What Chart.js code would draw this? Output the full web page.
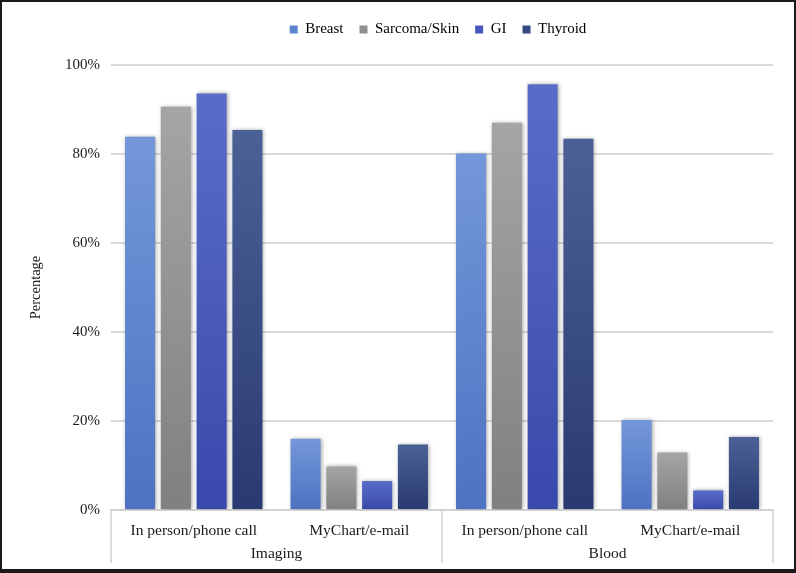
<!DOCTYPE html>
<html>
<head>
<meta charset="utf-8">
<script src="https://cdn.jsdelivr.net/npm/chart.js@4"></script>
<style>
  html, body { margin: 0; padding: 0; background: #fff; }
  #frame { position: relative; width: 796px; height: 573px; box-sizing: border-box; border: 2px solid #1a1a1a; border-bottom-width: 4px; }
  #chart { display: block; }
</style>
</head>
<body>
<div id="frame"><canvas id="chart" width="792" height="567"></canvas></div>
<script>
// categories: sub level (method) and group level (test type)
const methods = ["In person/phone call", "MyChart/e-mail", "In person/phone call", "MyChart/e-mail"];
const groups = ["Imaging", "Blood"];
const seriesNames = ["Breast", "Sarcoma/Skin", "GI", "Thyroid"];

// percentages per category: Imaging in person, Imaging MyChart, Blood in person, Blood MyChart
const breast = [83.9, 16.0, 80.1, 20.2];
const sarcomaSkin = [90.6, 9.8, 87.0, 12.9];
const gi = [93.6, 6.5, 95.7, 4.4];
const thyroid = [85.4, 14.7, 83.4, 16.4];

const yTicks = [0, 20, 40, 60, 80, 100];

// gradient colours (top, bottom) and legend swatch for each series
const palette = [
  { top: "#7397d8", bottom: "#4e72c2", swatch: "#5d84cf" },
  { top: "#a5a5a5", bottom: "#808080", swatch: "#8f8f8f" },
  { top: "#5a6cc9", bottom: "#3949ab", swatch: "#4656bd" },
  { top: "#4b6196", bottom: "#293a72", swatch: "#34497f" },
];

const font = "'Liberation Serif', 'Times New Roman', serif";

function barGradient(i) {
  return (ctx) => {
    const chart = ctx.chart;
    const y = chart.scales.y;
    if (!chart.chartArea || !y || ctx.raw == null) return palette[i].swatch;
    const top = y.getPixelForValue(ctx.raw);
    const bottom = y.getPixelForValue(0);
    if (!isFinite(top) || !isFinite(bottom) || top === bottom) return palette[i].swatch;
    const g = chart.ctx.createLinearGradient(0, top, 0, bottom);
    g.addColorStop(0, palette[i].top);
    g.addColorStop(1, palette[i].bottom);
    return g;
  };
}

const values = [breast, sarcomaSkin, gi, thyroid];

// legend spacing + centring over the plot area
const legendTweak = {
  id: "legendTweak",
  beforeInit(chart) {
    const lg = chart.legend;
    const fit = lg.fit;
    lg.fit = function () { fit.call(this); this.height += 18; };
  },
  afterLayout(chart) {
    const lg = chart.legend, a = chart.chartArea;
    const shift = (a.left + a.right) / 2 - (lg.left + lg.right) / 2 - 4;
    lg.left += shift;
    lg.right += shift;
  },
};

// soft shadow behind the bars
const barShadow = {
  id: "barShadow",
  beforeDatasetsDraw(chart) {
    const c = chart.ctx;
    c.save();
    c.shadowColor = "rgba(0,0,0,0.35)";
    c.shadowBlur = 4;
    c.shadowOffsetX = 1;
    c.shadowOffsetY = 0;
  },
  afterDatasetsDraw(chart) { chart.ctx.restore(); },
};

// group row under the category labels, with separator lines
const groupAxis = {
  id: "groupAxis",
  afterDraw(chart) {
    const x = chart.scales.x, a = chart.chartArea, c = chart.ctx;
    const lineBottom = a.bottom + 53;
    const mid = (x.getPixelForValue(1) + x.getPixelForValue(2)) / 2;
    c.save();
    c.strokeStyle = "#d0d0d0";
    c.lineWidth = 1.5;
    [a.left, mid, a.right].forEach((px) => {
      c.beginPath();
      c.moveTo(px, a.bottom);
      c.lineTo(px, lineBottom);
      c.stroke();
    });
    c.fillStyle = "#1a1a1a";
    c.font = "15.5px " + font;
    c.textAlign = "center";
    c.textBaseline = "middle";
    groups.forEach((g, i) => {
      const cx = (x.getPixelForValue(i * 2) + x.getPixelForValue(i * 2 + 1)) / 2;
      c.fillText(g, cx, a.bottom + 44);
    });
    c.restore();
  },
};

new Chart(document.getElementById("chart"), {
  type: "bar",
  data: {
    labels: methods,
    datasets: seriesNames.map((name, i) => ({
      label: name,
      data: values[i],
      backgroundColor: barGradient(i),
      borderWidth: 0,
      categoryPercentage: 0.865,
      barPercentage: 0.84,
    })),
  },
  options: {
    responsive: false,
    animation: false,
    layout: { padding: { top: 4, right: 21, left: 0, bottom: 0 } },
    plugins: {
      tooltip: { enabled: false },
      legend: {
        position: "top",
        labels: {
          boxWidth: 8,
          boxHeight: 8,
          padding: 16,
          color: "#1a1a1a",
          font: { family: font, size: 15 },
          generateLabels: (chart) => seriesNames.map((name, i) => ({
            text: name,
            fillStyle: palette[i].swatch,
            strokeStyle: palette[i].swatch,
            lineWidth: 0,
            datasetIndex: i,
            hidden: false,
          })),
        },
      },
    },
    scales: {
      x: {
        grid: { display: false },
        border: { display: true, color: "#d0d0d0", width: 1.5 },
        ticks: { color: "#1a1a1a", font: { family: font, size: 15.5 }, padding: 4, maxRotation: 0, autoSkip: false },
        afterFit: (s) => { s.height = 59; },
      },
      y: {
        min: 0,
        max: 100,
        afterBuildTicks: (s) => { s.ticks = yTicks.map((v) => ({ value: v })); },
        grid: { color: "#d9d9d9", lineWidth: 2, drawTicks: false },
        border: { display: false },
        ticks: { color: "#1a1a1a", font: { family: font, size: 15 }, padding: 11, callback: (v) => v + "%" },
        title: { display: true, text: "Percentage", color: "#1a1a1a", font: { family: font, size: 14.5 }, padding: { top: 25, bottom: 0 } },
        afterFit: (s) => { s.width = 109; },
      },
    },
  },
  plugins: [legendTweak, barShadow, groupAxis],
});
</script>
</body>
</html>
